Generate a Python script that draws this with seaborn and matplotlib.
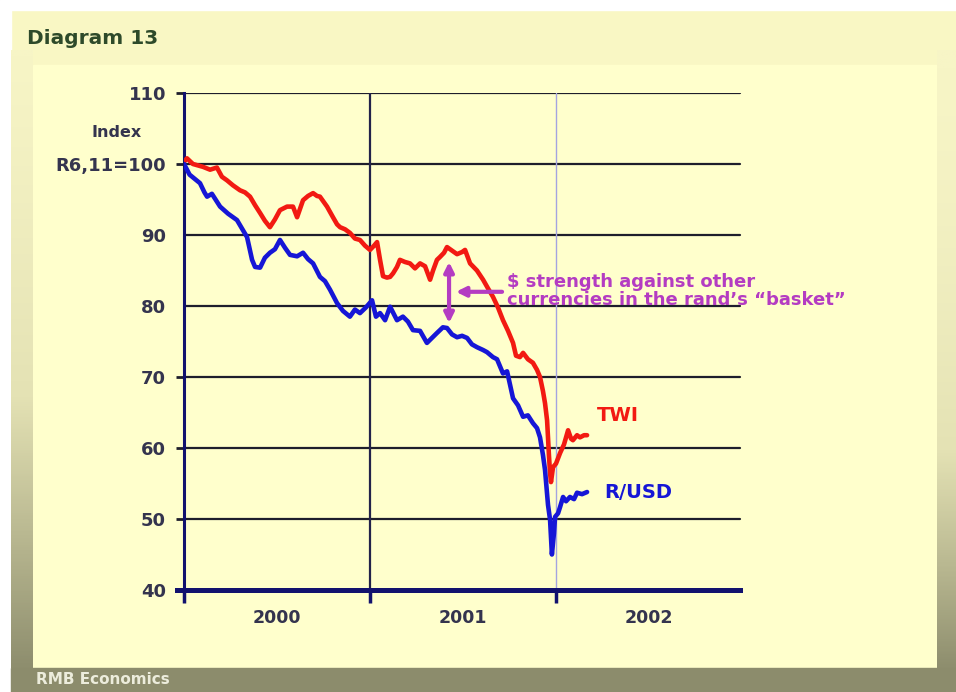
import numpy as np
import pandas as pd
import matplotlib
matplotlib.use("Agg")
import matplotlib.pyplot as plt
import seaborn as sns
from matplotlib.patches import Rectangle
from matplotlib.colors import LinearSegmentedColormap

# Time axis: years elapsed since 1 January 2000
usd_t = [0.000, 0.030, 0.086, 0.110, 0.124, 0.150, 0.194, 0.237, 0.285, 0.339,
         0.366, 0.382, 0.409, 0.435, 0.462, 0.489, 0.516, 0.543, 0.570, 0.608,
         0.640, 0.667, 0.694, 0.731, 0.758, 0.785, 0.823, 0.855, 0.892, 0.919,
         0.946, 0.978, 1.011, 1.032, 1.054, 1.081, 1.108, 1.145, 1.177, 1.204,
         1.231, 1.269, 1.306, 1.333, 1.360, 1.392, 1.414, 1.441, 1.468, 1.495,
         1.522, 1.548, 1.575, 1.608, 1.629, 1.661, 1.683, 1.715, 1.737, 1.769,
         1.796, 1.823, 1.849, 1.876, 1.898, 1.914, 1.930, 1.941, 1.957, 1.968,
         1.978, 1.989, 1.995, 2.011, 2.022, 2.038, 2.054, 2.075, 2.097, 2.113,
         2.140, 2.167]
usd_v = [100.0, 98.5, 97.3, 96.0, 95.4, 95.8, 94.0, 93.0, 92.1, 89.7,
         86.5, 85.5, 85.4, 86.8, 87.5, 88.0, 89.3, 88.2, 87.2, 87.0,
         87.5, 86.6, 86.0, 84.1, 83.5, 82.3, 80.4, 79.3, 78.5, 79.5,
         79.0, 79.8, 80.8, 78.5, 79.0, 78.0, 79.9, 78.0, 78.5, 77.8,
         76.6, 76.5, 74.8, 75.5, 76.2, 77.0, 76.9, 76.0, 75.6, 75.8,
         75.5, 74.6, 74.2, 73.8, 73.5, 72.8, 72.5, 70.5, 70.8, 67.0,
         66.0, 64.4, 64.6, 63.5, 62.8, 61.5, 59.0, 56.9, 52.0, 49.9,
         45.0, 48.0, 50.3, 50.8, 51.7, 53.1, 52.5, 53.1, 52.8, 53.7,
         53.5, 53.8]

twi_t = [0.000, 0.016, 0.048, 0.075, 0.102, 0.140, 0.177, 0.204, 0.231, 0.263,
         0.301, 0.328, 0.355, 0.382, 0.409, 0.435, 0.462, 0.489, 0.516, 0.554,
         0.586, 0.608, 0.640, 0.667, 0.694, 0.715, 0.731, 0.769, 0.801, 0.823,
         0.839, 0.866, 0.892, 0.919, 0.946, 0.973, 1.000, 1.022, 1.038, 1.054,
         1.070, 1.091, 1.108, 1.124, 1.145, 1.161, 1.188, 1.215, 1.242, 1.269,
         1.296, 1.323, 1.339, 1.360, 1.376, 1.398, 1.414, 1.441, 1.468, 1.495,
         1.511, 1.538, 1.575, 1.608, 1.634, 1.661, 1.688, 1.715, 1.742, 1.769,
         1.785, 1.806, 1.823, 1.849, 1.876, 1.898, 1.914, 1.930, 1.941, 1.952,
         1.957, 1.962, 1.968, 1.973, 1.984, 2.000, 2.022, 2.043, 2.065, 2.081,
         2.091, 2.113, 2.129, 2.151, 2.167]
twi_v = [100.3, 100.8, 100.0, 99.8, 99.6, 99.2, 99.5, 98.2, 97.7, 97.0,
         96.3, 96.0, 95.4, 94.2, 93.1, 92.0, 91.1, 92.2, 93.5, 94.0,
         94.0, 92.5, 94.9, 95.5, 95.9, 95.5, 95.4, 94.0, 92.5, 91.5,
         91.1, 90.8, 90.3, 89.5, 89.3, 88.5, 87.9, 88.5, 89.0, 86.5,
         84.2, 84.0, 84.1, 84.6, 85.5, 86.5, 86.2, 86.0, 85.3, 86.0,
         85.6, 83.7, 85.0, 86.5, 86.9, 87.5, 88.3, 87.8, 87.3, 87.6,
         87.9, 86.0, 85.0, 83.7, 82.5, 81.3, 79.8, 78.0, 76.5, 74.8,
         73.0, 72.8, 73.4, 72.5, 72.0, 71.0, 70.0, 68.0, 66.3, 63.9,
         61.5, 59.0, 56.5, 55.2, 57.3, 57.8, 59.3, 60.5, 62.5, 61.3,
         61.1, 61.8, 61.5, 61.8, 61.8]

series_names = ["TWI", "R/USD"]
y_ticks = [40, 50, 60, 70, 80, 90, 100, 110]
y_tick_labels = ["40", "50", "60", "70", "80", "90", "R6,11=100", "110"]
year_starts = [0, 1, 2]
year_labels = ["2000", "2001", "2002"]

df = pd.concat([
    pd.DataFrame({"t": twi_t, "value": twi_v, "series": "TWI"}),
    pd.DataFrame({"t": usd_t, "value": usd_v, "series": "R/USD"}),
], ignore_index=True)

RED = "#F21A12"
BLUE = "#1616D6"
MAGENTA = "#B43CC2"
NAVY = "#12126E"
DARK = "#1E1E2C"
LABEL = "#34344E"

sns.set_theme(style="white")
plt.rcParams["font.family"] = ["DejaVu Sans"]

W, H = 956, 692
fig = plt.figure(figsize=(W / 100, H / 100), dpi=100)

# ---- slide frame drawn in pixel coordinates ----
bg = fig.add_axes([0, 0, 1, 1], zorder=0)
bg.axis("off")
bg.add_patch(Rectangle((0, 0), W, H, color="#F9F7C4", zorder=0))
bg.add_patch(Rectangle((33, 65), 904, 603, color="#FFFFCC", zorder=1))
bg.add_patch(Rectangle((0, 0), W, 10, color="white", zorder=2))
bg.add_patch(Rectangle((0, 0), 11, H, color="white", zorder=2))
frame_cmap = LinearSegmentedColormap.from_list("frame", ["#F7F5C6", "#E4E2B4", "#8E8E6E"])
ramp = np.linspace(0, 1, 256).reshape(-1, 1)
bg.imshow(ramp ** 1.2, cmap=frame_cmap, extent=(11, 33, 668, 50), origin="upper",
          aspect="auto", zorder=2)
bg.imshow(ramp ** 1.6, cmap=frame_cmap, extent=(937, W, 668, 50), origin="upper",
          aspect="auto", zorder=2)
bg.add_patch(Rectangle((11, 668), W - 11, H - 668, color="#8C8C6C", zorder=3))
bg.set_xlim(0, W)
bg.set_ylim(H, 0)

fig.text(27 / W, 1 - 39 / H, "Diagram 13", fontsize=14.5, fontweight="bold",
         color="#2E4A2A", va="center", ha="left")
fig.text(36 / W, 1 - 679 / H, "RMB Economics", fontsize=11, fontweight="bold",
         color="#ECECDC", va="center", ha="left")

# ---- chart ----
ax = fig.add_axes([184 / W, 1 - 590 / H, (742 - 184) / W, (590 - 93) / H], zorder=2)
ax.set_facecolor("#FFFFCC")
ax.set_xlim(0, 3)
ax.set_ylim(40, 110)

grid_end = (740 - 184) / (742 - 184)
for v in y_ticks[1:]:
    ax.axhline(v, xmax=grid_end, color=DARK, lw=1.6, zorder=1)
ax.axvline(1, color="#22224A", lw=1.6, zorder=1)
ax.axvline(2, color="#A4A4E0", lw=1.0, zorder=1)

sns.lineplot(data=df, x="t", y="value", hue="series", hue_order=series_names,
             palette={"TWI": RED, "R/USD": BLUE}, estimator=None, sort=False,
             linewidth=3.3, legend=False, ax=ax, zorder=3)

for side in ["top", "right"]:
    ax.spines[side].set_visible(False)
ax.spines["left"].set_color(NAVY)
ax.spines["left"].set_linewidth(2.2)
ax.spines["bottom"].set_color(NAVY)
ax.spines["bottom"].set_linewidth(3.6)
ax.spines["bottom"].set_zorder(4)
ax.spines["bottom"].set_bounds(-0.035, 2.99)

ax.set_yticks(y_ticks)
ax.set_yticklabels(y_tick_labels)
ax.tick_params(axis="y", direction="out", length=6, width=2, color=DARK,
               pad=7, labelsize=13, labelcolor=LABEL, left=True)
for lab in ax.get_yticklabels():
    lab.set_fontweight("bold")
# the 80 and 90 levels carry a label but no tick stub
for tk, v in zip(ax.yaxis.get_major_ticks(), y_ticks):
    if v in (80, 90):
        tk.tick1line.set_visible(False)

ax.set_xticks(year_starts)
ax.set_xticklabels([""] * len(year_starts))
ax.set_xticks([s + 0.5 for s in year_starts], minor=True)
ax.set_xticklabels(year_labels, minor=True)
ax.tick_params(axis="x", which="major", direction="out", length=9, width=2.5,
               color=NAVY, bottom=True)
ax.tick_params(axis="x", which="minor", length=0, pad=14, labelsize=12.5,
               labelcolor=LABEL, bottom=True)
for lab in ax.get_xticklabels(minor=True):
    lab.set_fontweight("bold")
ax.set_xlabel("")
ax.set_ylabel("")

ax.text(-0.12, 104.4, "Index", transform=ax.get_yaxis_transform(),
        fontsize=11.5, fontweight="bold", color=LABEL, ha="center", va="center")

# gap between the two indices
ax.annotate("", xy=(1.425, 86.2), xytext=(1.425, 77.6),
            arrowprops=dict(arrowstyle="<|-|>", color=MAGENTA, lw=3,
                            mutation_scale=14, shrinkA=0, shrinkB=0), zorder=5)
ax.annotate("", xy=(1.462, 82.0), xytext=(1.71, 82.0),
            arrowprops=dict(arrowstyle="-|>", color=MAGENTA, lw=3,
                            mutation_scale=14, shrinkA=0, shrinkB=0), zorder=5)
ax.text(1.737, 82.1, "\\$ strength against other\ncurrencies in the rand\u2019s \u201cbasket\u201d",
        color=MAGENTA, fontsize=13, fontweight="bold", ha="left", va="center",
        linespacing=1.0, zorder=5)

ax.text(2.22, 64.6, "TWI", color=RED, fontsize=14, fontweight="bold",
        ha="left", va="center")
ax.text(2.258, 53.7, "R/USD", color=BLUE, fontsize=14, fontweight="bold",
        ha="left", va="center")

fig.savefig("out.png", dpi=100)
